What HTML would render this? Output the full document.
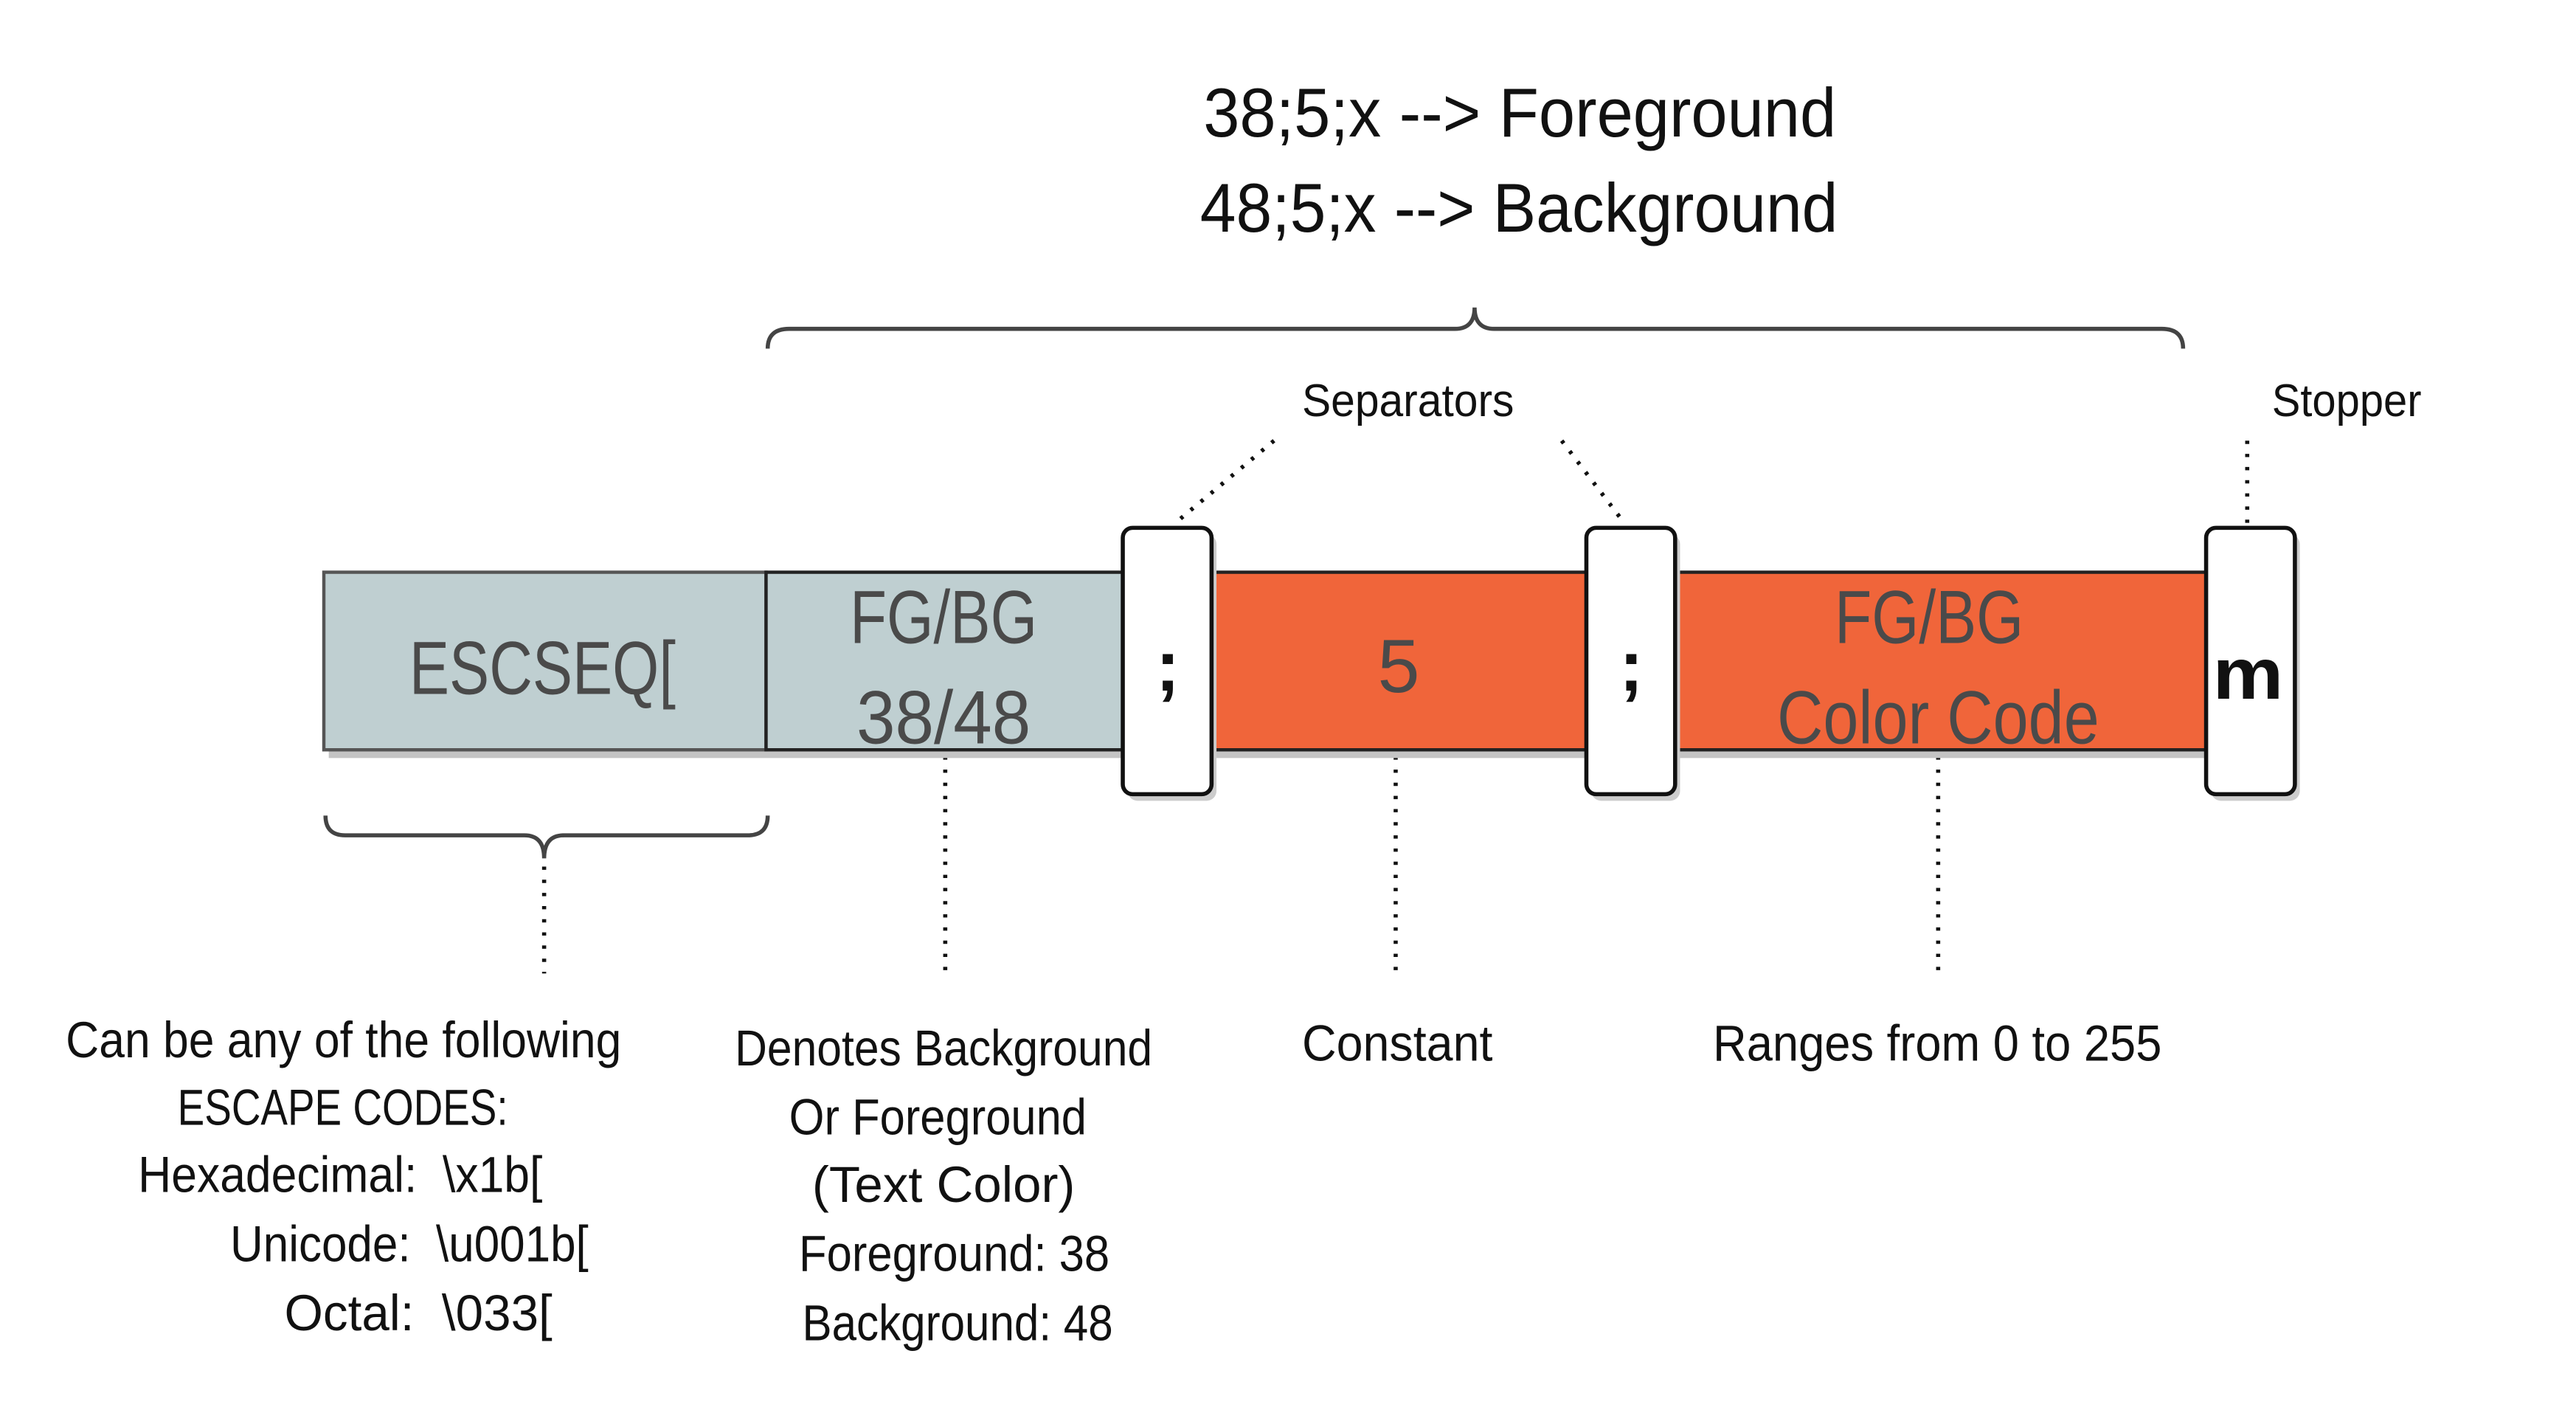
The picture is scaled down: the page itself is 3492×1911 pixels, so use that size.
<!DOCTYPE html>
<html><head><meta charset="utf-8"><style>html,body{margin:0;padding:0;background:#fff;}svg{display:block}</style></head>
<body>
<svg width="3492" height="1911" viewBox="0 0 1567 857.5" preserveAspectRatio="none" xmlns="http://www.w3.org/2000/svg" font-family="Liberation Sans, sans-serif">
<rect width="1567" height="858" fill="#fff"/>
<g fill="#111" font-size="42">
<text x="732" y="83" textLength="385" lengthAdjust="spacingAndGlyphs">38;5;x --&gt; Foreground</text>
<text x="730" y="141" textLength="388" lengthAdjust="spacingAndGlyphs">48;5;x --&gt; Background</text>
</g>
<path d="M467,212 Q467,200 480,200 L885,200 Q897,200 897,187 Q897,200 909,200 L1315,200 Q1328,200 1328,212" fill="none" stroke="#444" stroke-width="2.5"/>
<g fill="#111" font-size="28">
<text x="792" y="253" textLength="129" lengthAdjust="spacingAndGlyphs">Separators</text>
<text x="1382" y="253" textLength="91" lengthAdjust="spacingAndGlyphs">Stopper</text>
</g>
<g stroke="#111" stroke-width="2.5" stroke-dasharray="2,6" fill="none">
<line x1="775" y1="268" x2="715" y2="318"/>
<line x1="950" y1="268" x2="988" y2="318"/>
<line x1="1367" y1="268" x2="1367" y2="318"/>
<line x1="331" y1="527" x2="331" y2="592"/>
<line x1="575" y1="460" x2="575" y2="592"/>
<line x1="849" y1="460" x2="849" y2="592"/>
<line x1="1179" y1="460" x2="1179" y2="592"/>
</g>
<rect x="200" y="356" width="1195" height="105" fill="#c4c4c4"/>
<rect x="197" y="348" width="269" height="108" fill="#bfcfd1" stroke="#555" stroke-width="2"/>
<rect x="466" y="348" width="217" height="108" fill="#bfcfd1" stroke="#222" stroke-width="2"/>
<rect x="735" y="348" width="232" height="108" fill="#f0653a" stroke="#222" stroke-width="2"/>
<rect x="1017" y="348" width="326" height="108" fill="#f0653a" stroke="#222" stroke-width="2"/>
<g fill="#fff" stroke="#111" stroke-width="2.5">
<rect x="686" y="325" width="54" height="162" rx="6" fill="#ccc" stroke="none"/>
<rect x="683" y="321" width="54" height="162" rx="6"/>
<rect x="968" y="325" width="54" height="162" rx="6" fill="#ccc" stroke="none"/>
<rect x="965" y="321" width="54" height="162" rx="6"/>
<rect x="1345" y="325" width="54" height="162" rx="6" fill="#ccc" stroke="none"/>
<rect x="1342" y="321" width="54" height="162" rx="6"/>
</g>
<g fill="#4a4a4a" font-size="46">
<text x="249" y="422" textLength="162" lengthAdjust="spacingAndGlyphs">ESCSEQ[</text>
<text x="517" y="391" textLength="114" lengthAdjust="spacingAndGlyphs">FG/BG</text>
<text x="521" y="452" textLength="106" lengthAdjust="spacingAndGlyphs">38/48</text>
<text x="838" y="421">5</text>
<text x="1116" y="391" textLength="115" lengthAdjust="spacingAndGlyphs">FG/BG</text>
<text x="1081" y="452" textLength="196" lengthAdjust="spacingAndGlyphs">Color Code</text>
</g>
<g fill="#111" font-size="44" font-weight="bold">
<text x="703" y="420">;</text>
<text x="985" y="420">;</text>
<text x="1346" y="425" textLength="43" lengthAdjust="spacingAndGlyphs">m</text>
</g>
<path d="M198,496 Q198,508 210,508 L319,508 Q331,508 331,522 Q331,508 343,508 L455,508 Q467,508 467,496" fill="none" stroke="#444" stroke-width="2.5"/>
<g fill="#111" font-size="31">
<text x="40" y="643" textLength="338" lengthAdjust="spacingAndGlyphs">Can be any of the following</text>
<text x="108" y="684" textLength="201" lengthAdjust="spacingAndGlyphs">ESCAPE CODES:</text>
<text x="84" y="725" textLength="246" lengthAdjust="spacingAndGlyphs">Hexadecimal:&#160;&#160;\x1b[</text>
<text x="140" y="767" textLength="218" lengthAdjust="spacingAndGlyphs">Unicode:&#160;&#160;\u001b[</text>
<text x="173" y="809" textLength="163" lengthAdjust="spacingAndGlyphs">Octal:&#160;&#160;\033[</text>
<text x="447" y="648" textLength="254" lengthAdjust="spacingAndGlyphs">Denotes Background</text>
<text x="480" y="690" textLength="181" lengthAdjust="spacingAndGlyphs">Or Foreground</text>
<text x="494" y="731" textLength="160" lengthAdjust="spacingAndGlyphs">(Text Color)</text>
<text x="486" y="773" textLength="189" lengthAdjust="spacingAndGlyphs">Foreground: 38</text>
<text x="488" y="815" textLength="189" lengthAdjust="spacingAndGlyphs">Background: 48</text>
<text x="792" y="645" textLength="116" lengthAdjust="spacingAndGlyphs">Constant</text>
<text x="1042" y="645" textLength="273" lengthAdjust="spacingAndGlyphs">Ranges from 0 to 255</text>
</g>
</svg>
</body></html>
